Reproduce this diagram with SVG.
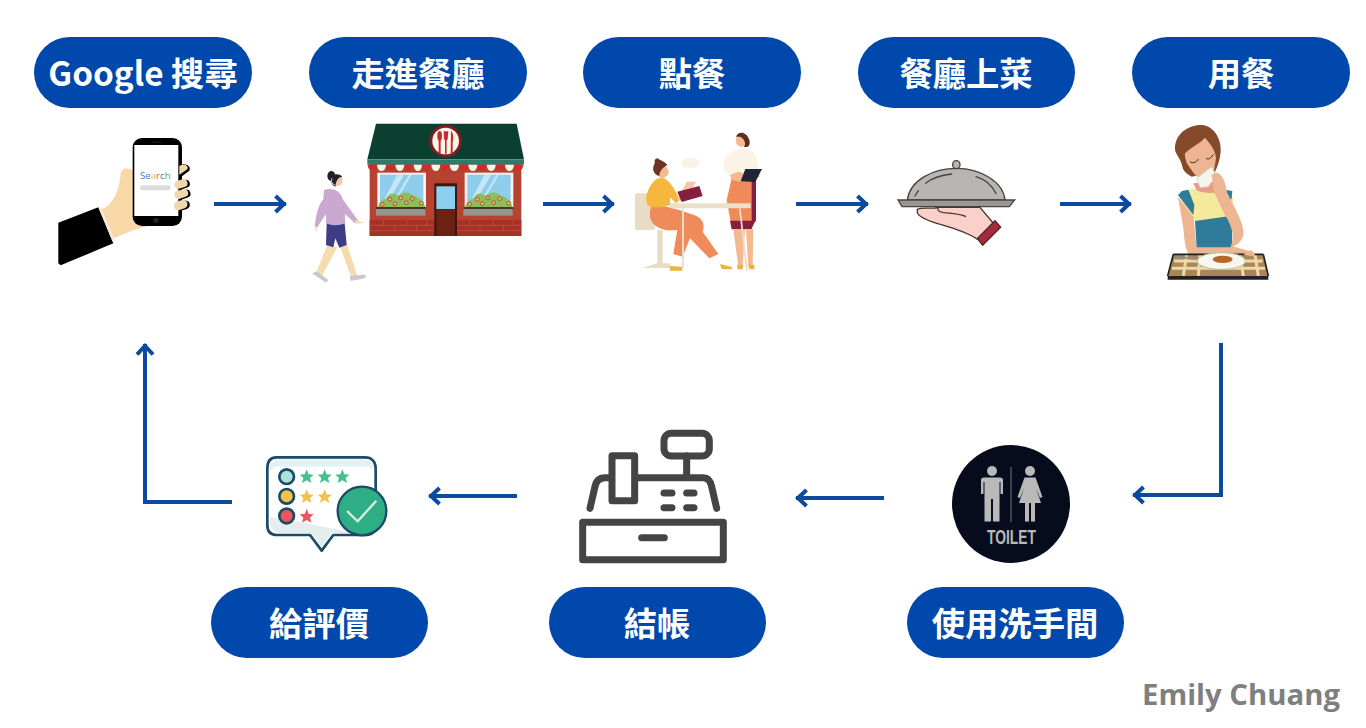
<svg xmlns="http://www.w3.org/2000/svg" width="1366" height="728" viewBox="0 0 1366 728">
<style>
.pill{fill:#0048ab}
.lb{fill:#fff;font:700 33.300px "Noto Sans CJK TC","Noto Sans CJK SC",sans-serif;text-anchor:middle}
.cn{fill:none;stroke:#0b4a9e;stroke-width:4;marker-end:url(#ah)}
.reg{stroke:#444;stroke-width:21;fill:none;stroke-linecap:round;stroke-linejoin:round}
</style>
<defs>
<marker id="ah" markerUnits="userSpaceOnUse" markerWidth="20" markerHeight="24" refX="14" refY="12" orient="auto"><path d="M3.500 4L12 12L3.500 20" fill="none" stroke="#0b4a9e" stroke-width="4"/></marker>
<path id="s" d="M0-21L6-6L21-5L10 5L14 20L0 12L-14 20L-10 5L-21-5L-6-6Z"/>
<g id="flower"><circle r="5.500" fill="#e7c66a" stroke="#a83b2c" stroke-width="2.500"/></g>
<g id="win">
<rect x="0" y="0" width="146" height="105" fill="#f8f4ea"/><rect x="8" y="6" width="130" height="94" fill="#8fcdec"/>
<path d="M60 6L80 6L30 90L15 90ZM95 6L103 6L65 70L58 70Z" fill="#c5e6f3"/>
<path d="M2 104C4 85 20 80 28 76C36 58 52 60 62 70C74 56 100 56 108 70C122 70 138 82 144 104Z" fill="#8fbd59"/>
<use href="#flower" x="38" y="80"/><use href="#flower" x="70" y="76"/><use href="#flower" x="105" y="78"/><use href="#flower" x="15" y="95"/><use href="#flower" x="53" y="93"/><use href="#flower" x="87" y="90"/><use href="#flower" x="132" y="92"/>
<rect x="-4" y="103" width="150" height="6" fill="#3d3a30"/><rect x="-4" y="109" width="148" height="20" fill="#96958e"/>
</g>
</defs>
<rect width="1366" height="728" fill="#fff"/>

<g id="connectors">
<path class="cn" d="M214 204H286"/>
<path class="cn" d="M543 204H614"/>
<path class="cn" d="M796 204H868"/>
<path class="cn" d="M1060 204H1131"/>
<path class="cn" d="M1221 343V495H1133"/>
<path class="cn" d="M884 498H796"/>
<path class="cn" d="M517 496H429"/>
<path class="cn" d="M232 502H145V344"/>
</g>

<g id="n-google"><rect class="pill" x="34" y="37" width="218" height="71" rx="35.500"/><text class="lb" x="143" y="86">Google 搜尋</text></g>
<g id="n-enter"><rect class="pill" x="309" y="37" width="218" height="71" rx="35.500"/><text class="lb" x="418" y="86">走進餐廳</text></g>
<g id="n-order"><rect class="pill" x="583" y="37" width="218" height="71" rx="35.500"/><text class="lb" x="692" y="86">點餐</text></g>
<g id="n-serve"><rect class="pill" x="858" y="37" width="217" height="71" rx="35.500"/><text class="lb" x="966" y="86">餐廳上菜</text></g>
<g id="n-eat"><rect class="pill" x="1132" y="37" width="218" height="71" rx="35.500"/><text class="lb" x="1241" y="86">用餐</text></g>
<g id="n-toilet"><rect class="pill" x="907" y="587" width="217" height="71" rx="35.500"/><text class="lb" x="1015" y="636">使用洗手間</text></g>
<g id="n-pay"><rect class="pill" x="549" y="587" width="217" height="71" rx="35.500"/><text class="lb" x="657" y="636">結帳</text></g>
<g id="n-review"><rect class="pill" x="211" y="587" width="217" height="71" rx="35.500"/><text class="lb" x="319" y="636">給評價</text></g>

<g id="icon-phone" transform="translate(30 110) scale(.3333)">
<path d="M85 338L205 292L250 400L92 466L85 460Z" fill="#000"/>
<path d="M205 292L222 298L254 380L248 395Z" fill="#f3ead8"/>
<path d="M215 298C248 285 268 245 272 190C274 172 298 172 312 184L400 345C350 343 300 362 252 385Z" fill="#f9d8a8"/>
<rect x="308" y="84" width="148" height="264" rx="28" fill="#000"/>
<rect x="313" y="105" width="132" height="213" fill="#fff"/>
<rect x="365" y="95" width="30" height="3" fill="#222"/>
<circle cx="378" cy="331" r="8" fill="#222"/>
<text x="330" y="206" font-family="Open Sans,sans-serif" font-size="29"><tspan fill="#4a78c0">Se</tspan><tspan fill="#e8c24c">a</tspan><tspan fill="#d9534f">r</tspan><tspan fill="#4a78c0">c</tspan><tspan fill="#6aa84f">h</tspan></text>
<rect x="330" y="226" width="92" height="15" rx="7" fill="#dcdcdc"/>
<g fill="#000">
<path d="M452 165C465 158 485 168 478 182L452 202Z"/>
<rect x="438" y="212" width="42" height="24" rx="12" transform="rotate(-18 459 224)"/>
<rect x="440" y="242" width="42" height="24" rx="12" transform="rotate(-18 461 254)"/>
<rect x="438" y="274" width="42" height="26" rx="13" transform="rotate(-18 459 287)"/>
</g>
<g fill="#f1d7ac">
<path d="M448 168C458 160 478 164 472 178L448 194Z"/>
<rect x="433" y="210" width="40" height="24" rx="12" transform="rotate(-18 453 222)"/>
<rect x="433" y="240" width="42" height="24" rx="12" transform="rotate(-18 454 252)"/>
<rect x="431" y="272" width="42" height="26" rx="13" transform="rotate(-18 452 285)"/>
</g>
</g>

<g id="icon-enter" transform="translate(300 110) scale(.3333)">
<rect x="209" y="160" width="455" height="218" fill="#b84231"/>
<path d="M228 41H650L672 148H202Z" fill="#0b3f30"/>
<rect x="202" y="148" width="470" height="16" fill="#2f7a68"/>
<g fill="#d22a2d"><path d="M203 164h28a14 18 0 0 1-28 0ZM258 164h28a14 18 0 0 1-28 0ZM313 164h28a14 18 0 0 1-28 0ZM366 164h28a14 18 0 0 1-28 0ZM421 164h28a14 18 0 0 1-28 0ZM477 164h28a14 18 0 0 1-28 0ZM532 164h28a14 18 0 0 1-28 0ZM587 164h28a14 18 0 0 1-28 0ZM642 164h28a14 18 0 0 1-28 0Z"/></g>
<g fill="#fbf6ea"><path d="M231 164h27a13.500 19 0 0 1-27 0ZM286 164h27a13.500 19 0 0 1-27 0ZM341 164h25a12.500 19 0 0 1-25 0ZM394 164h27a13.500 19 0 0 1-27 0ZM449 164h28a14 19 0 0 1-28 0ZM505 164h27a13.500 19 0 0 1-27 0ZM560 164h27a13.500 19 0 0 1-27 0ZM615 164h27a13.500 19 0 0 1-27 0Z"/></g>
<rect x="209" y="330" width="455" height="48" fill="#a53226"/>
<path d="M209 346H664M209 362H664M250 330V346M320 330V346M380 330V346M510 330V346M580 330V346M640 330V346M285 346V362M350 346V362M540 346V362M610 346V362" stroke="#c9564a" stroke-width="2"/>
<use href="#win" x="232" y="188"/><use href="#win" x="494" y="188"/>
<rect x="403" y="220" width="68" height="158" fill="#3f160c"/>
<rect x="409" y="229" width="56" height="68" fill="#8ccfee"/>
<rect x="409" y="298" width="56" height="80" fill="#6b2213"/>
<circle cx="437" cy="93" r="49" fill="#7c1d1f"/><circle cx="437" cy="93" r="40" fill="#fbf6ea"/>
<g fill="#c62a30"><ellipse cx="419" cy="78" rx="7" ry="15"/><rect x="416" y="85" width="6" height="46" rx="3"/><path d="M431 64h14l-2 25h-3v42h-5v-42h-3Z"/><path d="M453 62c8 8 8 24 5 35v34h-6Z"/></g>
<g id="walker">
<path d="M82 405L48 488L66 497L112 412ZM118 405L152 497L172 497L140 400Z" fill="#f4dcae"/>
<path d="M36 490L50 484L85 510L78 518Z" fill="#c9c9c9"/><path d="M150 497L198 494L195 505L152 513Z" fill="#c9c9c9"/>
<path d="M80 340H134L140 405L118 413L106 385L100 412L78 405Z" fill="#3c3d85"/>
<path d="M72 240C95 232 122 240 128 268L175 332L165 340L135 312L136 340C115 348 95 347 78 340L78 312L52 352L44 348C48 310 58 280 70 268Z" fill="#c9a9d0"/>
<path d="M165 329L194 338L168 341Z" fill="#f4dcae"/>
<path d="M44 348L52 352L48 366Z" fill="#f4dcae"/>
<circle cx="112" cy="212" r="16" fill="#f2c9a8"/>
<path d="M96 196C108 190 122 192 127 200C112 202 108 214 106 230C95 226 90 212 92 202Z" fill="#22222a"/><ellipse cx="94" cy="198" rx="12" ry="15" fill="#22222a"/>
<path d="M96 205C92 215 96 222 104 224" fill="none" stroke="#f4f4f4" stroke-width="3"/>
</g>
</g>

<g id="icon-order" transform="translate(620 120) scale(.3333)">
<rect x="185" y="115" width="52" height="28" rx="14" fill="#fbf2e6"/>
<rect x="45" y="220" width="60" height="110" rx="6" fill="#e8dcc4"/>
<path d="M112 330H128V430H150V444H68L112 430Z" fill="#e8dcc4"/>
<path d="M92 262C125 250 175 270 222 285C250 295 255 315 248 335L295 402L268 415L210 355L188 410L160 402L172 330C130 335 85 320 90 275Z" fill="#f08a5a"/>
<path d="M150 438L185 440L188 452H150ZM300 432L337 442L335 448H305Z" fill="#e8b63a"/>
<path d="M78 235C85 195 105 175 125 172C150 180 165 210 180 240L168 250L150 232L150 255C125 265 95 265 82 255Z" fill="#f6b73c"/>
<path d="M172 240L200 185L228 185L195 245Z" fill="#f5c7a8"/>
<path d="M172 215L238 198L248 228L185 246Z" fill="#861f3f"/>
<circle cx="128" cy="155" r="18" fill="#f5b891"/>
<path d="M112 115C98 118 108 128 102 135C94 150 105 166 118 168C118 155 125 145 142 135C135 125 122 122 112 115Z" fill="#6b3320"/>
<path d="M312 120C335 80 385 78 405 100L418 150L395 175H340L310 150Z" fill="#fbf4e6"/>
<path d="M335 175H395L408 190L408 305H332L320 240Z" fill="#f08a5a"/>
<path d="M395 180H408V300L395 325Z" fill="#861f3f"/>
<path d="M330 302H400L395 328H335Z" fill="#861f3f"/>
<path d="M340 328L375 328L368 440H355ZM378 328H400L398 440H385Z" fill="#f5b891"/>
<path d="M352 434L370 434L368 448L352 448ZM385 434H403V448H388Z" fill="#e8b63a"/>
<path d="M330 165L355 155L385 165L412 155L420 170L395 182L360 185L335 180Z" fill="#f5b891"/>
<circle cx="365" cy="62" r="18" fill="#f5b891"/>
<path d="M348 50C355 32 380 35 388 60C392 75 385 85 372 80C380 70 372 55 360 50Z" fill="#5e2b20"/>
<path d="M362 184L376 147L426 147L406 186Z" fill="#1f2436"/>
<path d="M150 250H392V265H150Z" fill="#ecdfc8"/>
<path d="M186 265H192V445H186ZM357 265H362L384 452H378Z" fill="#ecdfc8"/>
</g>

<g id="icon-serve" transform="translate(890 150) scale(.3333)">
<path d="M52 150C60 90 130 55 200 55C270 55 340 95 345 150Z" fill="#b8b6b2" stroke="#4a4340" stroke-width="4"/>
<rect x="188" y="32" width="22" height="24" rx="11" fill="#b8b6b2" stroke="#4a4340" stroke-width="4"/>
<path d="M75 138L85 122M107 100C125 85 155 75 185 72M258 80C285 88 305 105 318 130" fill="none" stroke="#4a4340" stroke-width="4" stroke-linecap="round"/>
<path d="M24 150H374L358 170H36Z" fill="#9a9894" stroke="#4a4340" stroke-width="4"/>
<path d="M82 178C95 170 130 178 145 172L270 172L312 222L262 268C230 245 180 232 140 220C115 212 85 200 82 188Z" fill="#fad1c9" stroke="#4a3530" stroke-width="4"/>
<path d="M145 172C140 180 145 185 160 188C190 190 215 192 228 200" fill="none" stroke="#4a3530" stroke-width="4"/>
<path d="M315 212L332 232L278 286L262 266Z" fill="#a62a3c" stroke="#4a2a2a" stroke-width="4"/>
</g>

<g id="icon-eat" transform="translate(1150 115) scale(.3333)">
<path d="M75 95C80 50 120 30 155 30C190 32 215 70 212 110C210 130 205 150 195 170L125 185C110 175 100 172 96 150C90 125 72 115 75 95Z" fill="#854a2a"/>
<path d="M130 205L190 200L205 250L150 250Z" fill="#e89c85"/>
<path d="M84 240C100 230 120 222 130 220C150 235 190 240 222 225C240 225 245 235 250 255L245 320L135 320Z" fill="#f5ea9c"/>
<path d="M84 240L96 228L115 224L133 270L130 300Z" fill="#2f7b9a"/>
<path d="M228 225L247 228L245 250L235 260Z" fill="#2f7b9a"/>
<path d="M84 245L130 305L140 395L250 395C280 400 310 412 315 422L250 428H130C110 420 105 400 100 340Z" fill="#eeb592"/>
<path d="M135 318L245 302L247 397H140Z" fill="#2f7b9a"/>
<path d="M190 175C205 165 225 190 230 230C255 280 285 330 280 360C275 385 250 395 240 400C255 370 250 340 225 300C215 280 200 250 190 225Z" fill="#eeb592"/>
<path d="M105 115C125 95 150 85 165 68C185 90 197 110 198 130L190 180C175 198 145 195 128 170C114 152 103 135 105 115Z" fill="#eeb592"/>
<path d="M120 140Q132 150 146 132M168 130Q178 138 190 118" stroke="#4b2a1e" stroke-width="3" fill="none"/>
<path d="M140 190L185 155L198 180L175 215L150 218Z" fill="#f7f4ea" stroke="#c8ccc0" stroke-width="2"/>
<path d="M185 180C200 165 222 175 230 230L195 240Z" fill="#eeb592"/>
<path d="M70 418L340 418L355 483L53 483Z" fill="#a9855a"/>
<path d="M72 438H338M66 460H345M110 418L100 483M150 418L145 483M270 418L280 483M315 418L325 483" stroke="#efd9a8" stroke-width="9" fill="none"/>
<path d="M53 483H355V494H53Z" fill="#222"/><path d="M70 418L53 483M340 418L355 483M70 418H340" stroke="#222" stroke-width="5" fill="none"/>
<path d="M80 425L175 436" stroke="#8a8f92" stroke-width="6"/>
<ellipse cx="214" cy="438" rx="72" ry="25" fill="#f8f6ee" stroke="#a9c5a0" stroke-width="3"/>
<ellipse cx="218" cy="433" rx="30" ry="11" fill="#b8672a"/>
<path d="M300 405C312 410 318 418 312 424L280 420Z" fill="#eeb592"/>
</g>

<g id="icon-toilet">
<circle cx="1011" cy="504" r="59" fill="#060c1c"/>
<g fill="#b9b9b9">
<circle cx="992" cy="471" r="5"/>
<path d="M984 477.500H1000Q1003 477.500 1003 480V494H1000.500V482H999.500V521.500H993V499H991V521.500H984.500V482H983.500V494H981V480Q981 477.500 984 477.500Z"/>
<rect x="1010.500" y="467" width="1" height="55" fill="#777"/>
<circle cx="1030" cy="471" r="5"/>
<path d="M1024.500 477.500H1035.500L1042.500 497L1040 498L1036 488L1041 503H1035V521.500H1031V503H1029V521.500H1025V503H1019L1024 488L1020 498L1017.500 497Z"/>
</g>
<text x="1011.500" y="544" text-anchor="middle" textLength="49" lengthAdjust="spacingAndGlyphs" font-family="Liberation Sans,sans-serif" font-weight="700" font-size="21" fill="#b9b9b9">TOILET</text>
</g>

<g id="icon-pay" transform="translate(570 425) scale(.3333)">
<rect class="reg" x="282" y="25" width="136" height="68" rx="22"/>
<path class="reg" d="M350 93V158M60 250L75 185Q80 158 105 158H125M205 158H400Q420 158 425 185L440 250M126 92H194V227H126ZM282 204H306M350 204H372M282 248H306M350 248H372M38 292H460V404H38ZM215 338H283"/>
</g>

<g id="icon-review" transform="translate(255 450) scale(.3333)">
<path d="M65 22H330C350 22 362 35 362 55V225C362 245 350 255 330 255H235L200 302L165 255H65C45 255 37 245 37 225V55C37 35 45 22 65 22Z" fill="#fff" stroke="#1d4a66" stroke-width="8" stroke-linejoin="round"/>
<path d="M45 205C45 235 55 249 75 249H168L200 292L230 249H300L50 200Z" fill="#e4eeee"/>
<path d="M42 60C45 40 55 28 75 28H320C340 28 355 40 356 55Z" fill="#e4f1f4"/>
<path d="M55 50H345V205H55Z" fill="#fff"/>
<circle cx="95" cy="80" r="22" fill="#a9e2da" stroke="#1d4a66" stroke-width="8"/>
<circle cx="95" cy="139" r="22" fill="#f3c24a" stroke="#1d4a66" stroke-width="8"/>
<circle cx="95" cy="198" r="22" fill="#ef5560" stroke="#1d4a66" stroke-width="8"/>
<g fill="#47bf93"><use href="#s" x="155" y="79"/><use href="#s" x="209" y="79"/><use href="#s" x="262" y="79"/></g>
<g fill="#f3c24a"><use href="#s" x="155" y="139"/><use href="#s" x="209" y="139"/></g>
<use href="#s" x="155" y="198" fill="#ef5560"/>
<circle cx="321" cy="183" r="73" fill="#2fae85" stroke="#1d4a66" stroke-width="7"/>
<path d="M276 183L308 214L364 152" fill="none" stroke="#d7f0e0" stroke-width="7"/>
</g>

<text id="credit" x="1340" y="705" text-anchor="end" font-family="Open Sans,sans-serif" font-weight="700" font-size="29.300" fill="#7f7f7f">Emily Chuang</text>
</svg>
